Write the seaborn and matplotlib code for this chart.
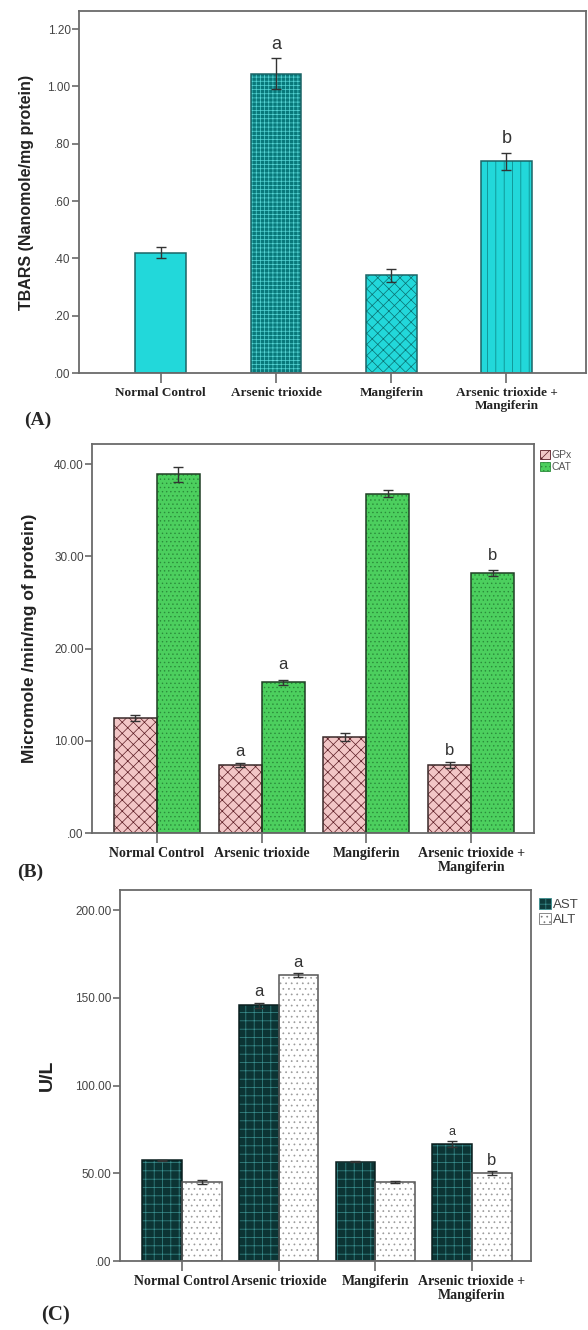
import matplotlib
matplotlib.use("Agg")
import matplotlib.pyplot as plt
from matplotlib.patches import Rectangle
from matplotlib.ticker import FuncFormatter
import seaborn as sns
import pandas as pd
import numpy as np

# ---------------- data ----------------
groups = ["Normal Control", "Arsenic trioxide", "Mangiferin", "Arsenic trioxide +\nMangiferin"]

tbars_mean = [0.42, 1.044, 0.341, 0.738]
tbars_err = [0.018, 0.054, 0.022, 0.029]
tbars_letters = ["", "a", "", "b"]

gpx_mean = [12.5, 7.4, 10.4, 7.4]
gpx_err = [0.3, 0.2, 0.4, 0.3]
gpx_letters = ["", "a", "", "b"]
cat_mean = [38.9, 16.35, 36.8, 28.2]
cat_err = [0.8, 0.3, 0.4, 0.3]
cat_letters = ["", "a", "", "b"]

ast_mean = [57.3, 145.7, 56.7, 66.7]
ast_err = [0.5, 1.5, 0.5, 1.5]
ast_letters = ["", "a", "", "a"]
alt_mean = [45.1, 163.1, 45.1, 50.2]
alt_err = [1.0, 1.0, 0.5, 1.0]
alt_letters = ["", "a", "", "b"]

a_ticks = [0.0, 0.2, 0.4, 0.6, 0.8, 1.0, 1.2]
b_ticks = [0, 10, 20, 30, 40]
c_ticks = [0, 50, 100, 150, 200]

# ---------------- style ----------------
sns.set_theme(style="white")
plt.rcParams["font.family"] = ["Liberation Sans", "DejaVu Sans"]
plt.rcParams["hatch.linewidth"] = 0.5

SERIF = ["Liberation Serif", "DejaVu Serif"]
FRAME = "#6a6a6a"

fig = plt.figure(figsize=(5.88, 13.3), dpi=100)
W, H = 588.0, 1330.0


def axes_px(left, top, right, bottom):
    return fig.add_axes([left / W, 1 - bottom / H, (right - left) / W, (bottom - top) / H])


def spss_fmt(v, pos):
    s = "%.2f" % v
    if s.startswith("0."):
        s = s[1:]
    return s


def style_axes(ax, ticks, ylim, xlim, xfs):
    ax.set_ylim(*ylim)
    ax.set_xlim(*xlim)
    ax.set_yticks(ticks)
    ax.yaxis.set_major_formatter(FuncFormatter(spss_fmt))
    for s in ax.spines.values():
        s.set_color(FRAME)
        s.set_linewidth(1.3)
        s.set_visible(True)
    ax.tick_params(axis="y", direction="out", length=5, width=1.2, color=FRAME,
                   labelsize=8.5, labelcolor="#444444", pad=1, left=True)
    ax.tick_params(axis="x", direction="out", length=7, width=1.2, color=FRAME,
                   pad=3, bottom=True)
    ax.set_xticks(range(len(groups)))
    ax.set_xticklabels(groups, fontfamily=SERIF, fontweight="bold", fontsize=xfs,
                       color="#222222", linespacing=1.1)
    ax.set_xlabel("")
    ax.grid(False)


def restyle_bars(ax, patches, faces, hatches, hatchcols, outline, errs, letters, lpad, lfs=12):
    for i, p in enumerate(patches):
        p.set_facecolor(faces[i])
        p.set_hatch(hatches[i])
        p.set_edgecolor(hatchcols[i])
        p.set_linewidth(0)
        ax.add_patch(Rectangle(p.get_xy(), p.get_width(), p.get_height(), fill=False,
                               edgecolor=outline, linewidth=1.1, zorder=p.get_zorder() + 0.1))
        xc = p.get_x() + p.get_width() / 2
        h = p.get_height()
        ax.errorbar([xc], [h], yerr=[errs[i]], fmt="none", ecolor="#333333",
                    elinewidth=1.0, capsize=3.5, capthick=1.0, zorder=5)
        if letters[i]:
            ax.text(xc, h + errs[i] + lpad, letters[i], ha="center", va="bottom",
                    fontsize=lfs[i] if isinstance(lfs, list) else lfs, color="#333333")


# ---------------- Panel A ----------------
axA = axes_px(79, 11, 586, 373)
dfA = pd.DataFrame({"group": groups, "value": tbars_mean})
sns.barplot(data=dfA, x="group", y="value", hue="group", palette=["#22d6d8"] * 4,
            width=0.44, errorbar=None, legend=False, ax=axA)
style_axes(axA, a_ticks, (0, 1.263), (-0.71, 3.69), 9.5)
restyle_bars(axA, [c.patches[0] for c in axA.containers],
             ["#22d8da", "#08787a", "#22d8da", "#22d8da"],
             ["", "++++", "xxx", "||"],
             ["#22d8da", "#55d4d4", "#0a7070", "#0a8080"],
             "#1b6466", tbars_err, tbars_letters, 0.02, 13)
axA.set_ylabel("TBARS (Nanomole/mg protein)", fontsize=11.5, fontweight="bold", labelpad=10,
               color="#222222")
fig.text(38 / W, 1 - 420 / H, "(A)", fontfamily=SERIF, fontweight="bold", fontsize=14,
         ha="center", va="center")

# ---------------- Panel B ----------------
axB = axes_px(92, 444, 534, 833)
dfB = pd.DataFrame({
    "group": groups * 2,
    "value": gpx_mean + cat_mean,
    "enzyme": ["GPx"] * 4 + ["CAT"] * 4,
})
sns.barplot(data=dfB, x="group", y="value", hue="enzyme", palette=["#f2c4c4", "#48cf5a"],
            width=0.82, errorbar=None, ax=axB)
style_axes(axB, b_ticks, (0, 42.2), (-0.62, 3.6), 10)
restyle_bars(axB, axB.containers[0].patches, ["#f2c6c6"] * 4, ["xxx"] * 4, ["#5a1a22"] * 4,
             "#3a2a2a", gpx_err, gpx_letters, 0.4, 12)
restyle_bars(axB, axB.containers[1].patches, ["#4ccf5e"] * 4, ["...."] * 4, ["#2a8a3a"] * 4,
             "#1f3f24", cat_err, cat_letters, 0.8, 12)
axB.set_ylabel("Micromole /min/mg of protein)", fontsize=12.5, fontweight="bold", labelpad=12,
               color="#222222")
hB = [Rectangle((0, 0), 1, 1, facecolor="#f2c6c6", hatch="xx", edgecolor="#5a1a22", lw=0.6),
      Rectangle((0, 0), 1, 1, facecolor="#4ccf5e", hatch="....", edgecolor="#2a8a3a", lw=0.6)]
axB.legend(hB, ["GPx", "CAT"], loc="upper left", bbox_to_anchor=(1.0, 1.0), frameon=False,
           fontsize=7.5, handlelength=0.9, handleheight=0.9, handletextpad=0.15,
           borderaxespad=0.2, labelspacing=0.2, labelcolor="#555555")
fig.text(30 / W, 1 - 872 / H, "(B)", fontfamily=SERIF, fontweight="bold", fontsize=14,
         ha="center", va="center")

# ---------------- Panel C ----------------
axC = axes_px(120, 890, 531, 1261)
dfC = pd.DataFrame({
    "group": groups * 2,
    "value": ast_mean + alt_mean,
    "enzyme": ["AST"] * 4 + ["ALT"] * 4,
})
sns.barplot(data=dfC, x="group", y="value", hue="enzyme", palette=["#0f3d3d", "#ffffff"],
            width=0.82, errorbar=None, ax=axC)
style_axes(axC, c_ticks, (0, 211.5), (-0.64, 3.61), 10)
restyle_bars(axC, axC.containers[0].patches, ["#0c3434"] * 4, ["++"] * 4, ["#3a8f8f"] * 4,
             "#0a1f1f", ast_err, ast_letters, 2.0, [12, 12, 12, 9])
restyle_bars(axC, axC.containers[1].patches, ["#ffffff"] * 4, ["..."] * 4, ["#9a9a9a"] * 4,
             "#555555", alt_err, alt_letters, 2.0, 12)
axC.set_ylabel("U/L", fontsize=14, fontweight="bold", labelpad=14, color="#222222")
hC = [Rectangle((0, 0), 1, 1, facecolor="#0e3b3b", hatch="++", edgecolor="#3a8f8f", lw=0.6),
      Rectangle((0, 0), 1, 1, facecolor="#ffffff", hatch="...", edgecolor="#777777", lw=0.6)]
axC.legend(hC, ["AST", "ALT"], loc="upper left", bbox_to_anchor=(1.0, 1.0), frameon=False,
           fontsize=9.5, handlelength=0.9, handleheight=0.9, handletextpad=0.15,
           borderaxespad=0.2, labelspacing=0.15, labelcolor="#444444")
fig.text(56 / W, 1 - 1315 / H, "(C)", fontfamily=SERIF, fontweight="bold", fontsize=15,
         ha="center", va="center")

fig.savefig("out.png", dpi=100)
